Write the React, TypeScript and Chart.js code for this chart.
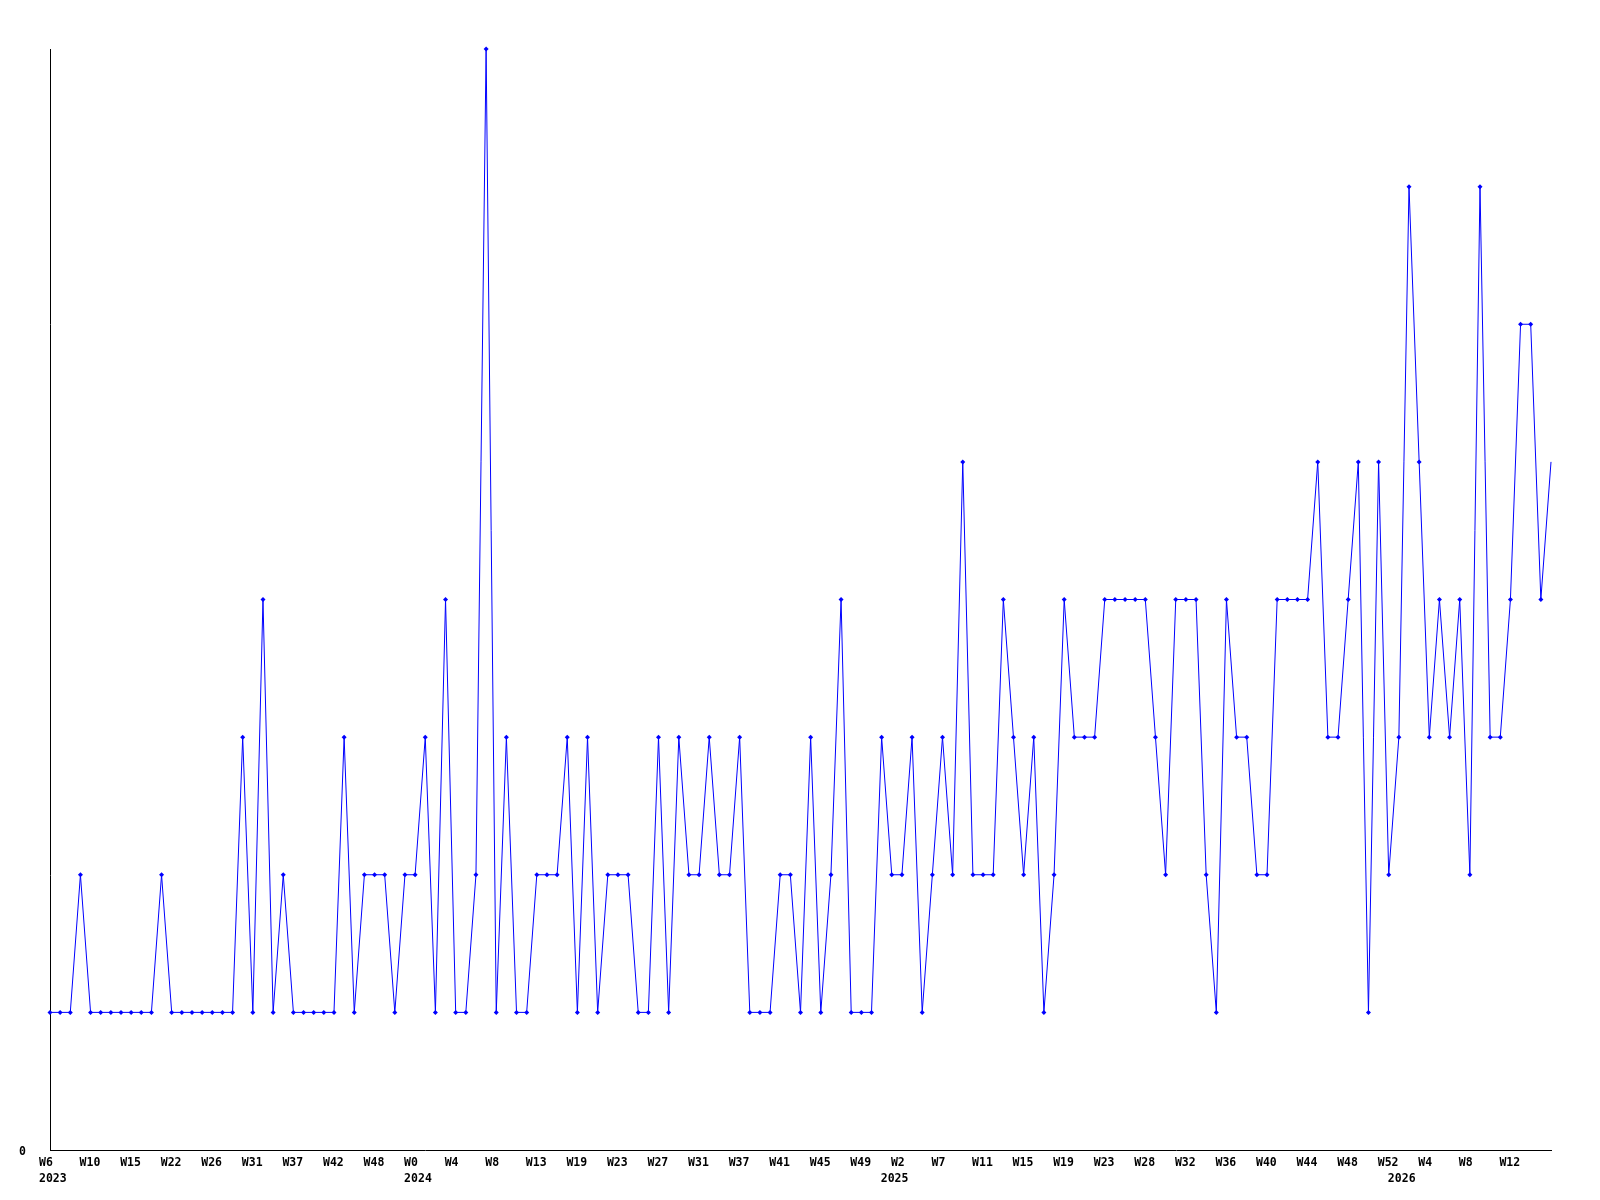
import React, { useEffect, useRef } from "react";
import { Chart, registerables } from "chart.js";

Chart.register(...registerables);

// Weekly values (one point per category, 149 points)
const values: number[] = [
  1, 1, 1, 2, 1, 1, 1, 1, 1, 1,
  1, 2, 1, 1, 1, 1, 1, 1, 1, 3,
  1, 4, 1, 2, 1, 1, 1, 1, 1, 3,
  1, 2, 2, 2, 1, 2, 2, 3, 1, 4,
  1, 1, 2, 8, 1, 3, 1, 1, 2, 2,
  2, 3, 1, 3, 1, 2, 2, 2, 1, 1,
  3, 1, 3, 2, 2, 3, 2, 2, 3, 1,
  1, 1, 2, 2, 1, 3, 1, 2, 4, 1,
  1, 1, 3, 2, 2, 3, 1, 2, 3, 2,
  5, 2, 2, 2, 4, 3, 2, 3, 1, 2,
  4, 3, 3, 3, 4, 4, 4, 4, 4, 3,
  2, 4, 4, 4, 2, 1, 4, 3, 3, 2,
  2, 4, 4, 4, 4, 5, 3, 3, 4, 5,
  1, 5, 2, 3, 7, 5, 3, 4, 3, 4,
  2, 7, 3, 3, 4, 6, 6, 4, 5,
];

// Tick labels shown on every 4th category
const tickLabels: string[] = [
  "W6", "W10", "W15", "W22", "W26", "W31", "W37", "W42", "W48",
  "W0", "W4", "W8", "W13", "W19", "W23", "W27", "W31", "W37", "W41", "W45", "W49",
  "W2", "W7", "W11", "W15", "W19", "W23", "W28", "W32", "W36", "W40", "W44", "W48", "W52",
  "W4", "W8", "W12",
];
const tickEvery = 4;

// Year labels: category index where each year starts
const yearStartIndex: number[] = [0, 36, 83, 133];
const yearNames: string[] = ["2023", "2024", "2025", "2026"];

const yMax = 8;

export default function App() {
  const ref = useRef<HTMLCanvasElement | null>(null);

  useEffect(() => {
    if (!ref.current) return;
    const categories = values.map((_, i) => String(i));
    const last = values.length - 1;
    const font = { family: '"DejaVu Sans Mono", monospace', size: 11.5, weight: "bold" as const, lineHeight: "16px" };
    const chart = new Chart(ref.current, {
      type: "line",
      data: {
        labels: categories,
        datasets: [
          {
            data: values,
            borderColor: "#0000ff",
            backgroundColor: "#0000ff",
            borderWidth: 1,
            tension: 0,
            pointStyle: "rectRot",
            pointRadius: (ctx: any) => (ctx.dataIndex === last ? 0 : 2.5),
            pointBorderWidth: 0,
            pointBackgroundColor: "#0000ff",
            clip: false as any,
          },
        ],
      },
      options: {
        animation: false,
        responsive: false,
        layout: { padding: { top: 49, right: 49, left: 0, bottom: 0 } },
        plugins: { legend: { display: false }, tooltip: { enabled: false } },
        scales: {
          x: {
            type: "category",
            offset: false,
            grid: { display: false, drawTicks: false },
            border: { display: true, color: "#000", width: 1 },
            afterFit: (s: any) => {
              s.height = 50;
            },
            ticks: {
              autoSkip: false,
              maxRotation: 0,
              minRotation: 0,
              align: "start",
              labelOffset: -11,
              padding: 5,
              color: "#000",
              font,
              callback: (_v: any, index: number) => {
                const lbl =
                  index % tickEvery === 0 && index / tickEvery < tickLabels.length
                    ? tickLabels[index / tickEvery]
                    : "";
                const yi = yearStartIndex.indexOf(index);
                if (yi >= 0) return [lbl, yearNames[yi]];
                return lbl;
              },
            },
          },
          y: {
            min: 0,
            max: yMax,
            grid: { display: false, drawTicks: false },
            border: { display: true, color: "#000", width: 1 },
            afterFit: (s: any) => {
              s.width = 50;
            },
            ticks: {
              stepSize: yMax,
              padding: 24,
              labelOffset: 2,
              color: "#000",
              font,
              callback: (v: any) => (v === 0 ? "0" : ""),
            },
          },
        },
      },
    });
    return () => chart.destroy();
  }, []);

  return (
    <div style={{ position: "absolute", left: 0, top: 0, width: 1600, height: 1200, background: "#fff" }}>
      <canvas ref={ref} width={1600} height={1200} style={{ width: 1600, height: 1200, display: "block" }} />
    </div>
  );
}
